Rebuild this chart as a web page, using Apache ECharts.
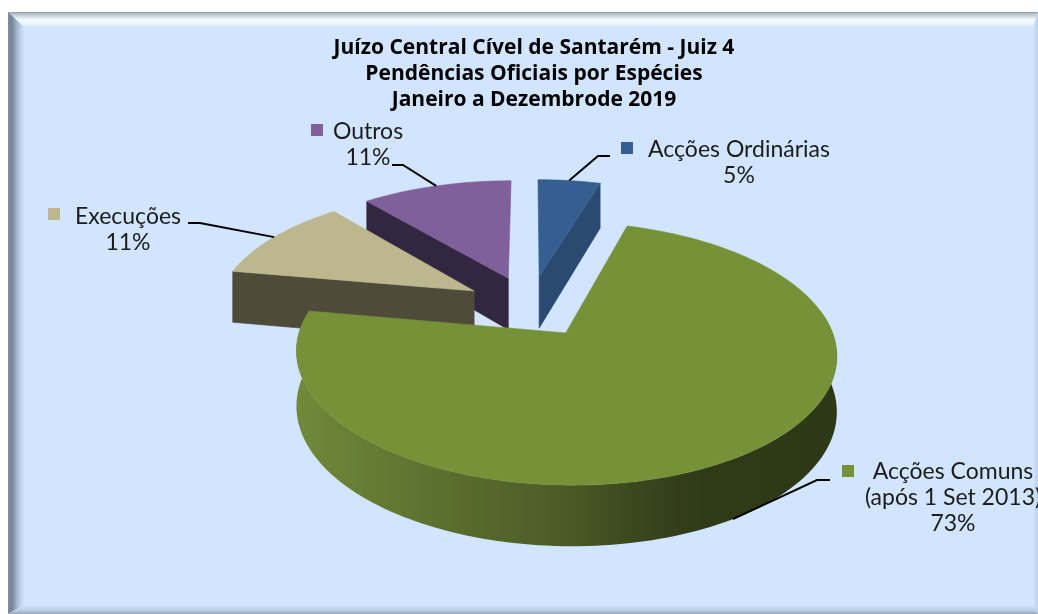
<!DOCTYPE html>
<html><head><meta charset="utf-8">
<style>html,body{margin:0;padding:0;background:#fff}#c{width:1038px;height:614px}</style>
<script src="https://cdn.jsdelivr.net/npm/echarts@6/dist/echarts.min.js"></script>
</head><body><div id="c"></div>
<script>
const titleLines = ['Juízo Central Cível de Santarém - Juiz 4','Pendências Oficiais por Espécies','Janeiro a Dezembrode 2019'];
const categories = [['Acções Ordinárias'],['Acções Comuns','(após 1 Set 2013)'],['Execuções'],['Outros']];
const values = [4.6,73.2,11.1,11.1];
const topColors = ['#355F91','#779138','#BDB78F','#7F609B'];
const wallColors = ['#2A4A72','#4E5F28','#4F4B3A','#332640'];
const drawOrder = [0,3,2,1];
const labelLayout = [
  {cx:739,y:150,kx:621,ky:142,ex:598,ey:156,tx:610,rim:'top'},
  {cx:953,y:472,kx:842,ky:465,ex:817,ey:480,tx:830,rim:'bottom'},
  {cx:128,y:217,kx:48,ky:208,ex:200,ey:223,tx:188,rim:'top'},
  {cx:368,y:132,kx:311,ky:124,ex:403,ey:165,tx:392,rim:'top'}
];
const FONT='Lato';
const LINE=26;
const geo={cx:530,cy:306,R:258,Ry:120,p:0.1518,e:0.255,D:53,dk:0.126,start:0};
const total=values.reduce((a,b)=>a+b,0);
const rad=d=>d*Math.PI/180;
function proj(i,thetaDeg,r,drop){
  const mid=midAngle(i);
  const u=geo.e*Math.sin(rad(mid))+r*Math.sin(rad(thetaDeg));
  const V=geo.e*Math.cos(rad(mid))+r*Math.cos(rad(thetaDeg));
  const w=1+geo.p*V;
  const d=drop?geo.D*(1-geo.dk*V):0;
  return [geo.cx+geo.R*u/w, geo.cy-geo.Ry*V/w+d];
}
function startAngle(i){let s=geo.start;for(let k=0;k<i;k++)s+=values[k]/total*360;return s;}
function endAngle(i){return startAngle(i)+values[i]/total*360;}
function midAngle(i){return (startAngle(i)+endAngle(i))/2;}
function arc(i,a,b,drop){const n=Math.max(2,Math.ceil(Math.abs(b-a)/1.5));const o=[];for(let k=0;k<=n;k++)o.push(proj(i,a+(b-a)*k/n,1,drop));return o;}
const poly=(points,fill)=>({type:'polygon',shape:{points},style:{fill,stroke:fill,lineWidth:0.6},silent:true});
function renderItem(params,api){
  const i=api.value(0);
  const s=startAngle(i),e=endAngle(i);
  const kids=[];
  const apex=proj(i,0,0,false),apexB=proj(i,0,0,true);
  const sinS=Math.sin(rad(s)),sinE=Math.sin(rad(e));
  if(sinS<-0.01) kids.push(poly([apex,proj(i,s,1,false),proj(i,s,1,true),apexB],wallColors[i]));
  if(sinE>0.01) kids.push(poly([apex,proj(i,e,1,false),proj(i,e,1,true),apexB],wallColors[i]));
  const a=Math.max(s,80),b=Math.min(e,279);
  if(b>a){
    const top=arc(i,a,b,false),bot=arc(i,a,b,true).reverse();
    const fill={type:'linear',global:true,x:296,y:0,x2:837,y2:0,colorStops:[
      {offset:0,color:'#71893A'},{offset:0.28,color:'#5A6E2E'},{offset:0.5,color:'#4B5B27'},{offset:0.62,color:'#3B481E'},{offset:0.75,color:'#2F3A17'},{offset:1,color:'#2D3816'}]};
    kids.push({type:'polygon',shape:{points:top.concat(bot)},style:{fill},silent:true});
  }
  kids.push(poly([apex].concat(arc(i,s,e,false)),topColors[i]));
  return {type:'group',children:kids};
}
function renderLabel(params,api){
  const i=api.value(0),L=labelLayout[i],m=midAngle(i);
  const anchor=proj(i,m,1,L.rim==='bottom');
  const kids=[{type:'polyline',shape:{points:[anchor,[L.ex,L.ey],[L.tx,L.ey]]},style:{stroke:'#000',lineWidth:2,fill:null},silent:true},
    {type:'rect',shape:{x:L.kx,y:L.ky,width:12,height:12},style:{fill:topColors[i]},silent:true}];
  const lines=categories[i].concat([Math.round(values[i]/total*100)+'%']);
  lines.forEach((t,k)=>kids.push({type:'text',style:{x:L.cx,y:L.y+k*LINE,text:t,align:'center',verticalAlign:'middle',font:'23px '+FONT,fill:'#1c1c1c'},silent:true}));
  return {type:'group',children:kids};
}
const bg='#D2E5FF';
const L=8,T=12,Rg=1038,B=614,il=24,it=27,ir=1033,ib=605;
const chart=echarts.init(document.getElementById('c'),null,{renderer:'canvas'});
chart.setOption({
  animation:false,backgroundColor:'#fff',
  title:{text:titleLines.join('\n'),left:529,top:30,textAlign:'center',textStyle:{fontFamily:'Open Sans',fontWeight:'bold',fontSize:21,lineHeight:26,color:'#000'}},
  graphic:{elements:[
    {type:'rect',z:-10,shape:{x:L,y:T,width:Rg-L,height:B-T},style:{fill:bg},silent:true},
    {type:'polygon',z:-9,shape:{points:[[L,T],[Rg,T],[ir,it],[il,it]]},silent:true,style:{fill:{type:'linear',x:0,y:0,x2:0,y2:1,colorStops:[{offset:0,color:'#8f949a'},{offset:0.1,color:'#aebccb'},{offset:0.5,color:'#f4fbff'},{offset:0.7,color:'#f2f9ff'},{offset:1,color:bg}]}}},
    {type:'polygon',z:-9,shape:{points:[[L,T],[il,it],[il,ib],[L,B]]},silent:true,style:{fill:{type:'linear',x:0,y:0,x2:1,y2:0,colorStops:[{offset:0,color:'#7f8b99'},{offset:0.25,color:'#76879c'},{offset:0.6,color:'#a9bdd6'},{offset:1,color:bg}]}}},
    {type:'polygon',z:-9,shape:{points:[[Rg,T],[Rg,B],[ir,ib],[ir,it]]},silent:true,style:{fill:{type:'linear',x:0,y:0,x2:1,y2:0,colorStops:[{offset:0,color:bg},{offset:1,color:'#bcd0ea'}]}}},
    {type:'polygon',z:-9,shape:{points:[[L,B],[il,ib],[ir,ib],[Rg,B]]},silent:true,style:{fill:{type:'linear',x:0,y:0,x2:0,y2:1,colorStops:[{offset:0,color:bg},{offset:0.6,color:'#bccde4'},{offset:1,color:'#9aa5b4'}]}}}
  ]},
  series:[
    {type:'custom',coordinateSystem:'none',renderItem,data:drawOrder.map(i=>[i,values[i]]),z:2,clip:false},
    {type:'custom',coordinateSystem:'none',renderItem:renderLabel,data:drawOrder.map(i=>[i,values[i]]),z:3,clip:false}
  ]
});
</script></body></html>
